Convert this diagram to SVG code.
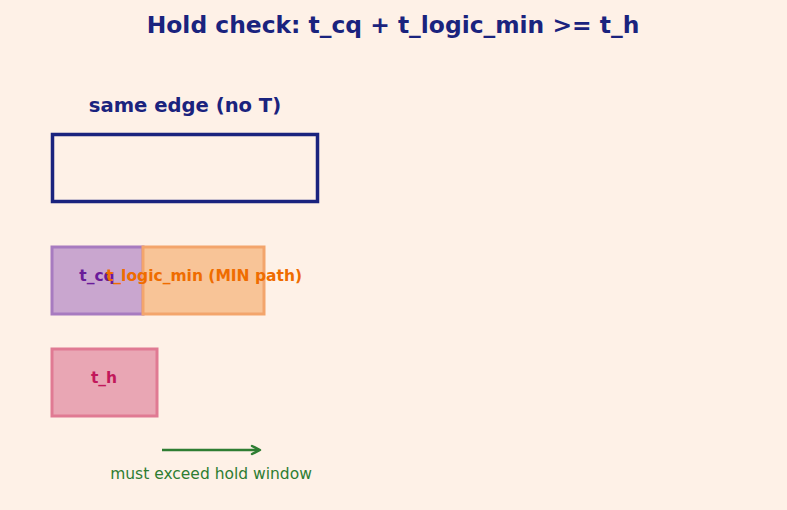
<svg xmlns="http://www.w3.org/2000/svg" width="787" height="510" viewBox="0 0 787 510">
<style>
text{font-family:"DejaVu Sans","Liberation Sans",sans-serif;text-anchor:middle}
.b{font-weight:bold}
</style>
<defs>
<marker id="ah" markerWidth="12" markerHeight="12" refX="9" refY="6" orient="auto" markerUnits="userSpaceOnUse">
<path d="M2,2 L10,6 L2,10" fill="none" stroke="#2e7d32" stroke-width="2.5" stroke-linecap="round" stroke-linejoin="round"/>
</marker>
</defs>
<rect width="787" height="510" fill="#fef1e7"/>
<text x="393" y="33" class="b" font-size="23.4" fill="#1a237e">Hold check: t_cq + t_logic_min &gt;= t_h</text>
<g id="clock">
<text x="185" y="112" class="b" font-size="19.6" fill="#1a237e">same edge (no T)</text>
<rect x="52.5" y="134.5" width="265" height="67" fill="none" stroke="#1a237e" stroke-width="3.5"/>
</g>
<g id="t_cq">
<rect x="52" y="247" width="91" height="67" fill="#c9a6cf" stroke="#a77bc0" stroke-width="3"/>
<text x="97" y="281" class="b" font-size="15.5" fill="#6a1b9a">t_cq</text>
</g>
<g id="t_logic">
<rect x="143" y="247" width="121" height="67" fill="#f8c497" stroke="#f3a56c" stroke-width="3"/>
<text x="204" y="281" class="b" font-size="15.5" fill="#ef6c00">t_logic_min (MIN path)</text>
</g>
<g id="t_h">
<rect x="52" y="349" width="105" height="67" fill="#e9a6b4" stroke="#e07a93" stroke-width="3"/>
<text x="104" y="383" class="b" font-size="15.5" fill="#c2185b">t_h</text>
</g>
<g id="connectors">
<line x1="162" y1="450" x2="259" y2="450" stroke="#2e7d32" stroke-width="2.5" marker-end="url(#ah)"/>
</g>
<text x="211" y="479" font-size="15.5" fill="#2e7d32">must exceed hold window</text>
</svg>
